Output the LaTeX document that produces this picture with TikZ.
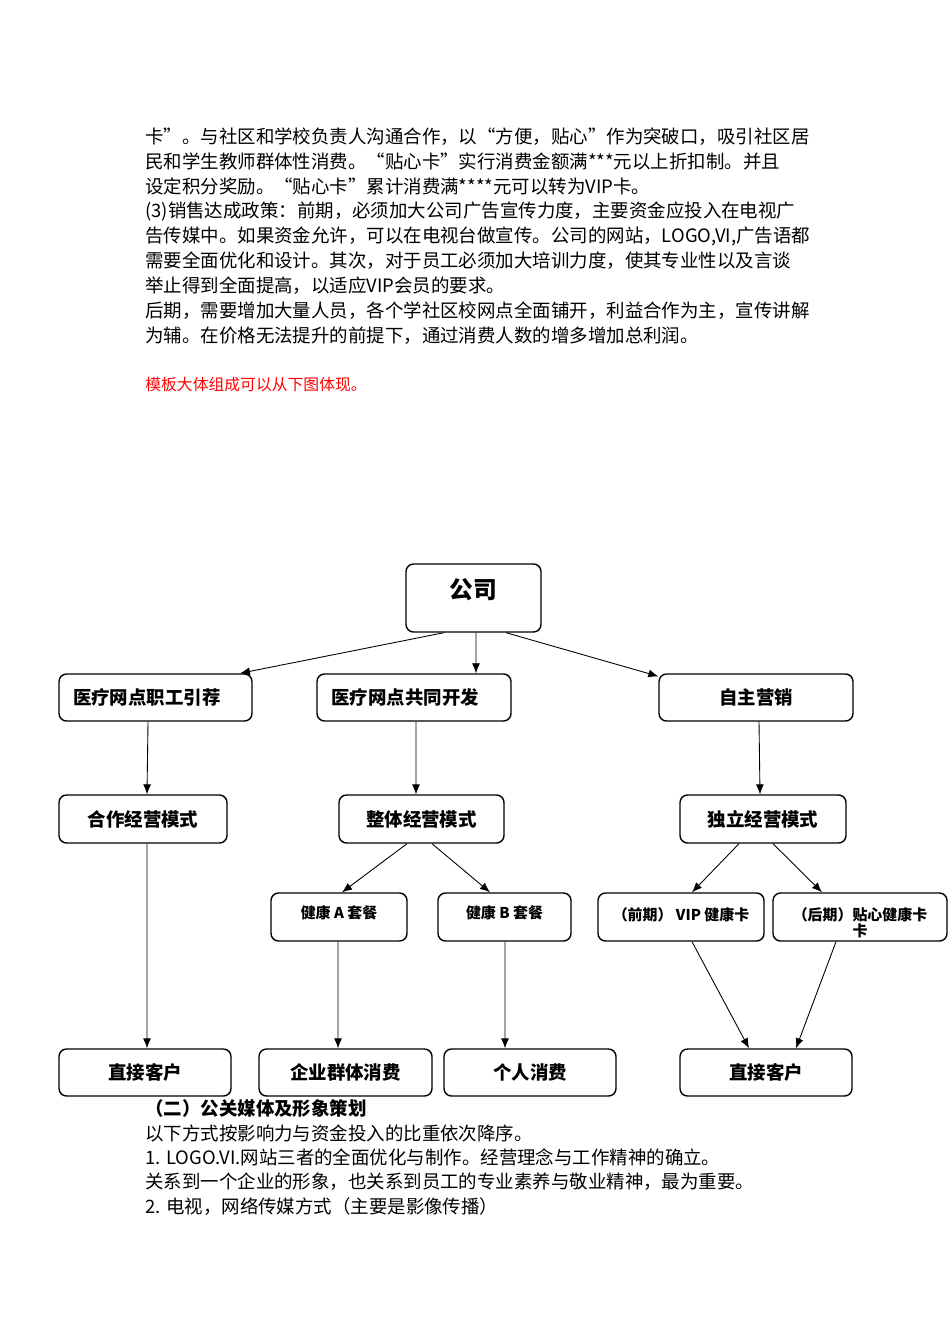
\documentclass[tikz,border=0pt]{standalone}
\usepackage{fontspec}
\setmainfont{Noto Sans CJK SC}
\usetikzlibrary{arrows.meta}

\tikzset{
  box/.style={draw, line width=0.8pt, rounded corners=0.15cm, inner sep=0pt,
    font=\bfseries\fontsize{10.5}{12}\selectfont},
  lbox/.style={box, align=left, text width=3.3cm},
  sbox/.style={box, text depth=0.18cm, font=\bfseries\fontsize{8.5}{9}\selectfont},
  txt/.style={anchor=west, inner sep=0pt, font=\fontsize{10.5}{12}\selectfont},
  arr/.style={-{Latex[length=0.2cm,width=0.16cm]}, line width=0.5pt}
}

\begin{document}
\begin{tikzpicture}[x=0.02cm, y=-0.02cm]
  \useasboundingbox (0,0) rectangle (950,1344);

  % text above the chart
  \node[txt] (t1) at (145,137) {卡”。与社区和学校负责人沟通合作，以“方便，贴心”作为突破口，吸引社区居};
  \node[txt] (t2) at (145,161) {民和学生教师群体性消费。“贴心卡”实行消费金额满***元以上折扣制。并且};
  \node[txt] (t3) at (145,186) {设定积分奖励。“贴心卡”累计消费满****元可以转为VIP卡。};
  \node[txt] (t4) at (145,211) {(3)销售达成政策：前期，必须加大公司广告宣传力度，主要资金应投入在电视广};
  \node[txt] (t5) at (145,236) {告传媒中。如果资金允许，可以在电视台做宣传。公司的网站，LOGO,VI,广告语都};
  \node[txt] (t6) at (145,261) {需要全面优化和设计。其次，对于员工必须加大培训力度，使其专业性以及言谈};
  \node[txt] (t7) at (145,286) {举止得到全面提高，以适应VIP会员的要求。};
  \node[txt] (t8) at (145,311) {后期，需要增加大量人员，各个学社区校网点全面铺开，利益合作为主，宣传讲解};
  \node[txt] (t9) at (145,336) {为辅。在价格无法提升的前提下，通过消费人数的增多增加总利润。};
  \node[txt, text=red, font=\fontsize{9}{10}\selectfont] (note) at (145,385) {模板大体组成可以从下图体现。};

  % chart
  \node[box, minimum width=2.7cm, minimum height=1.36cm, text depth=0.37cm,
    font=\bfseries\fontsize{13.5}{15}\selectfont] (gs) at (473.5,598) {公司};

  \node[lbox, minimum width=3.86cm, minimum height=0.94cm] (zg) at (155.5,697.5) {医疗网点职工引荐};
  \node[lbox, minimum width=3.88cm, minimum height=0.94cm] (gt) at (414,697.5) {医疗网点共同开发};
  \node[box, minimum width=3.88cm, minimum height=0.94cm] (zz) at (756,697.5) {自主营销};

  \node[box, minimum width=3.36cm, minimum height=0.96cm] (hz) at (143,819) {合作经营模式};
  \node[box, minimum width=3.3cm, minimum height=0.96cm] (zt) at (421.5,819) {整体经营模式};
  \node[box, minimum width=3.32cm, minimum height=0.96cm] (dl) at (763,819) {独立经营模式};

  \node[sbox, minimum width=2.72cm, minimum height=0.96cm] (ta) at (339,917) {健康 A 套餐};
  \node[sbox, minimum width=2.66cm, minimum height=0.96cm] (tb) at (504.5,917) {健康 B 套餐};
  \node[sbox, minimum width=3.32cm, minimum height=0.96cm, text depth=0.1cm] (qq) at (681,917) {（前期） VIP 健康卡};
  \node[box, minimum width=3.48cm, minimum height=0.96cm, align=center,
    font=\bfseries\fontsize{8.5}{9}\selectfont] (hq) at (860,917) {\rule{0pt}{0.5cm}（后期）贴心健康卡\\卡};

  \node[box, minimum width=3.44cm, minimum height=0.94cm] (kh1) at (145,1072.5) {直接客户};
  \node[box, minimum width=3.46cm, minimum height=0.94cm] (qy) at (345.5,1072.5) {企业群体消费};
  \node[box, minimum width=3.44cm, minimum height=0.94cm] (gr) at (530,1072.5) {个人消费};
  \node[box, minimum width=3.44cm, minimum height=0.94cm] (kh2) at (766,1072.5) {直接客户};

  \draw[arr] ([xshift=-0.59cm]gs.south) -- ([xshift=1.69cm]zg.north);
  \draw[arr] ([xshift=0.05cm]gs.south) -- ([xshift=1.24cm]gt.north);
  \draw[arr] ([xshift=0.65cm]gs.south) -- ([yshift=-0.06cm]zz.north west);
  \draw[arr] ([xshift=-0.15cm]zg.south) -- ([xshift=0.08cm]hz.north);
  \draw[arr] ([xshift=0.04cm]gt.south) -- ([xshift=-0.11cm]zt.north);
  \draw[arr] ([xshift=0.06cm]zz.south) -- ([xshift=-0.06cm]dl.north);
  \draw[arr] ([xshift=0.08cm]hz.south) -- ([xshift=0.04cm]kh1.north);
  \draw[arr] ([xshift=-0.29cm]zt.south) -- ([xshift=0.06cm]ta.north);
  \draw[arr] ([xshift=0.21cm]zt.south) -- ([xshift=-0.29cm]tb.north);
  \draw[arr] ([xshift=-0.48cm]dl.south) -- ([xshift=0.22cm]qq.north);
  \draw[arr] ([xshift=0.2cm]dl.south) -- ([xshift=-0.76cm]hq.north);
  \draw[arr] ([xshift=-0.02cm]ta.south) -- ([xshift=-0.15cm]qy.north);
  \draw[arr] ([xshift=0.01cm]tb.south) -- ([xshift=-0.5cm]gr.north);
  \draw[arr] ([xshift=0.22cm]qq.south) -- ([xshift=-0.34cm]kh2.north);
  \draw[arr] ([xshift=-0.48cm]hq.south) -- ([xshift=0.6cm]kh2.north);

  % text below the chart
  \node[txt, font=\bfseries\fontsize{10.5}{12}\selectfont] (h2) at (145,1108) {（二）公关媒体及形象策划};
  \node[txt] (b1) at (145,1133) {以下方式按影响力与资金投入的比重依次降序。};
  \node[txt] (b2) at (145,1157) {1. LOGO.VI.网站三者的全面优化与制作。经营理念与工作精神的确立。};
  \node[txt] (b3) at (145,1182) {关系到一个企业的形象，也关系到员工的专业素养与敬业精神，最为重要。};
  \node[txt] (b4) at (145,1207) {2. 电视，网络传媒方式（主要是影像传播）};
\end{tikzpicture}
\end{document}
